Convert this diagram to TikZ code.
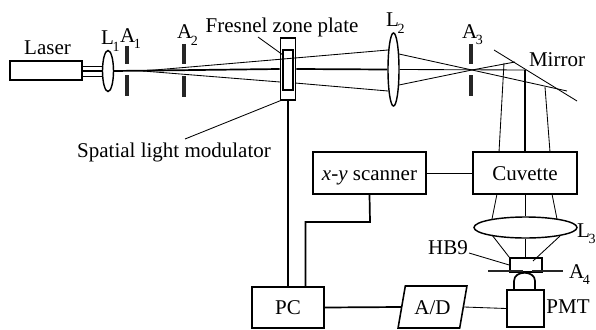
\documentclass[tikz,border=0pt]{standalone}
\usepackage{fontspec}
\setmainfont{Liberation Serif}
\usetikzlibrary{calc,shapes.geometric}
\def\lowsub#1#2{#1\kern-1.5pt\raisebox{-6.5pt}{\fontsize{14}{14}\selectfont #2}}
\tikzset{
	label text/.style={inner sep=0pt, font=\fontsize{21}{21}\selectfont},
	sub text/.style={label text, anchor=base west},
	unit box/.style={draw, line width=0.55mm, inner sep=0pt, font=\fontsize{21}{21}\selectfont, text height=14pt, text depth=0pt},
	lens/.style={draw, ellipse, line width=0.5mm, inner sep=0pt},
	ray/.style={line width=0.3mm},
	axis ray/.style={line width=0.6mm},
	wire/.style={line width=0.6mm},
	aperture/.style={line width=1.4mm, color=black!85}
}
\begin{document}
\begin{tikzpicture}[x=1pt, y=-1pt]
			%%%%% START %%%%%
			\useasboundingbox (0, 0) rectangle (596, 329);
			
			\node[unit box, minimum width=72, minimum height=19] (laser) at (46, 70.5) {};
			\node[lens, minimum width=11, minimum height=41] (lone) at (108, 71) {};
			\node[lens, minimum width=11, minimum height=73] (ltwo) at (393.5, 69.5) {};
			\node[lens, minimum width=103, minimum height=21] (lthree) at (525.5, 227.5) {};
			
			\node[unit box, minimum width=15, minimum height=62] (slm) at (288, 69) {};
			\node[unit box, minimum width=10, minimum height=40] (zone) at (288, 70) {};
			
			\node[unit box, minimum width=113, minimum height=42] (scanner) at (369.5, 173) {\textit{x-y} scanner};
			\node[unit box, minimum width=104, minimum height=42] (cuvette) at (525, 173) {Cuvette};
			\node[unit box, minimum width=72, minimum height=41] (pc) at (288, 307.5) {PC};
			\node[unit box, trapezium, trapezium left angle=71, trapezium right angle=109, trapezium stretches=true, minimum width=69, minimum height=42] (ad) at (432.5, 307) {A/D};
			\node[unit box, minimum width=37, minimum height=37] (pmt) at (525.5, 308.5) {};
			\node[unit box, minimum width=32, minimum height=8] (hb) at (526, 265) {};
			
			\node[label text] (laserlabel) at (47.5, 48) {Laser};
			\node[sub text] (lonelabel) at (101, 45) {\lowsub{L}{1}};
			\node[sub text] (aonelabel) at (120, 42) {\lowsub{A}{1}};
			\node[sub text] (atwolabel) at (177, 39) {\lowsub{A}{2}};
			\node[label text] (fresnellabel) at (282, 27) {Fresnel zone plate};
			\node[label text] (slmlabel) at (174, 152) {Spatial light modulator};
			\node[sub text] (ltwolabel) at (386, 27) {\lowsub{L}{2}};
			\node[sub text] (athreelabel) at (462, 38) {\lowsub{A}{3}};
			\node[label text] (mirrorlabel) at (557, 60) {Mirror};
			\node[sub text] (lthreelabel) at (577, 237) {\lowsub{L}{3}};
			\node[label text] (hblabel) at (448, 248) {HB9};
			\node[sub text] (afourlabel) at (569, 278) {\lowsub{A}{4}};
			\node[label text] (pmtlabel) at (568, 307) {PMT};
			
			%% beam before the first lens
			\draw[ray] (82, 66) -- (103, 66);
			\draw[axis ray] (82, 71) -- (103, 71);
			\draw[ray] (82, 76) -- (103, 76);
			
			%% apertures
			\draw[aperture] (127, 46) -- (127, 64);
			\draw[aperture] (127, 75) -- (127, 96);
			\draw[aperture] (184, 44) -- (184, 64);
			\draw[aperture] (184, 76) -- (184, 97);
			\draw[aperture] (470.5, 44) -- (470.5, 64);
			\draw[aperture] (470.5, 75) -- (470.5, 96);
			\draw[aperture, line width=1mm] (488, 271) -- (523, 271);
			\draw[aperture, line width=1mm] (532, 271) -- (563, 271);
			
			%% rays up to the modulator
			\coordinate (focusone) at (143, 71);
			\coordinate (focustwo) at (472, 70);
			\draw[axis ray] (lone.east) -- (slm.west);
			\draw[ray] (focusone) -- (295, 58) -- (388, 50);
			\draw[ray] (focusone) -- (280, 82);
			\draw[ray] (295, 83) -- (388, 91);
			\draw[axis ray] (slm.east) -- (ltwo.west);
			
			%% rays to the mirror
			\coordinate (mirrorcentre) at (525, 70);
			\draw[ray] (ltwo.east) -- (mirrorcentre);
			\draw[ray] (399, 54) -- (focustwo) -- (567, 91);
			\draw[ray] (399, 85) -- (focustwo) -- (515, 62);
			\draw[ray] (494, 50) -- (577, 101);
			
			%% rays to the cuvette
			\draw[axis ray] (mirrorcentre) -- (mirrorcentre |- cuvette.north);
			\draw[ray] (504, 63) -- (499, 152);
			\draw[ray] (545, 87) -- (550, 152);
			
			%% cuvette, lens and detector
			\draw[axis ray] (cuvette.south -| lthree.north) -- (lthree.north);
			\draw[ray] (497, 194) -- (492, 219);
			\draw[ray] (552, 194) -- (557, 219);
			\draw[axis ray] (lthree.south) -- (lthree.south |- hb.north);
			\draw[ray] (492, 235) -- (hb.north west);
			\draw[ray] (560, 236) -- (533, 261);
			\draw[wire] (514, 290) -- (514, 281) .. controls (514, 270) and (535, 270) .. (535, 281) -- (535, 290);
			
			%% leader lines
			\draw[ray] (258, 37) -- (283, 55);
			\draw[ray] (185, 139) -- (282, 100);
			\draw[ray] (469, 253) -- (hb.west);
			
			%% electrical connections
			\coordinate (scannerbend) at (370, 222);
			\draw[wire] (slm.south) -- (slm.south |- pc.north);
			\draw[ray] (scanner.east) -- (cuvette.west);
			\draw[wire] (scanner.south) -- (scannerbend) -| (305.5, 287);
			\draw[wire] (pc.east) -- (ad.west);
			\draw[ray] (ad.east) -- (pmt.west);
			
			%%%%% END %%%%%
		\end{tikzpicture}
\end{document}
